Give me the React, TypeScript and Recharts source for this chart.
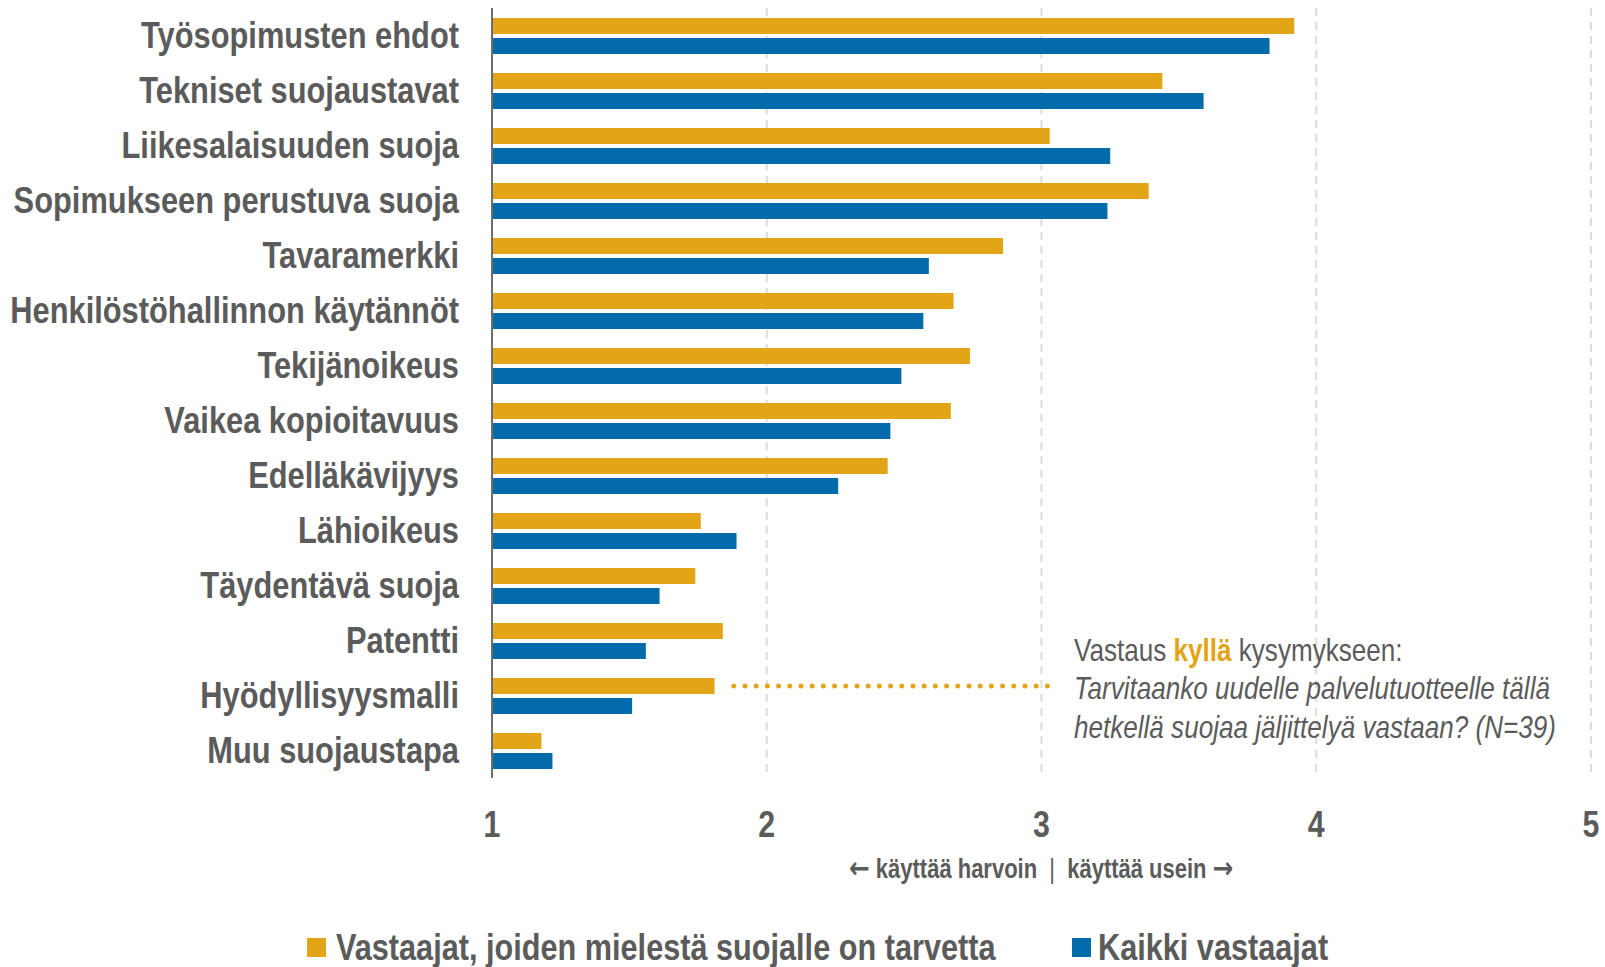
import React from "react";
import { BarChart, Bar, XAxis, YAxis, CartesianGrid, ReferenceLine } from "recharts";

const categories = [
  "Työsopimusten ehdot",
  "Tekniset suojaustavat",
  "Liikesalaisuuden suoja",
  "Sopimukseen perustuva suoja",
  "Tavaramerkki",
  "Henkilöstöhallinnon käytännöt",
  "Tekijänoikeus",
  "Vaikea kopioitavuus",
  "Edelläkävijyys",
  "Lähioikeus",
  "Täydentävä suoja",
  "Patentti",
  "Hyödyllisyysmalli",
  "Muu suojaustapa",
];
const needValues = [3.92, 3.44, 3.03, 3.39, 2.86, 2.68, 2.74, 2.67, 2.44, 1.76, 1.74, 1.84, 1.81, 1.18];
const allValues = [3.83, 3.59, 3.25, 3.24, 2.59, 2.57, 2.49, 2.45, 2.26, 1.89, 1.61, 1.56, 1.51, 1.22];
const xTicks = [1, 2, 3, 4, 5];
const seriesNames = ["Vastaajat, joiden mielestä suojalle on tarvetta", "Kaikki vastaajat"];
const dottedFrom = 1.88;
const dottedTo = 3.04;
const dottedCategory = "Hyödyllisyysmalli";

const data = categories.map((c, i) => ({ name: c, need: needValues[i], all: allValues[i] }));

const ORANGE = "#E3A518";
const BLUE = "#046BAB";
const GRAY = "#5b5b5b";
const FONT = "'Liberation Sans', Arial, sans-serif";
const SX = 0.82;

const YTick = (props: any) => {
  const { x, y, payload } = props;
  return (
    <text transform={`translate(${x},${y - 1}) scale(${SX},1)`} x={0} y={0} textAnchor="end" dominantBaseline="central" fill={GRAY}
      style={{ fontFamily: FONT, fontWeight: 700, fontSize: 37.6 }}>
      {payload.value}
    </text>
  );
};

const XTick = (props: any) => {
  const { x, y, payload } = props;
  return (
    <text transform={`translate(${x},${y}) scale(${SX},1)`} x={0} y={0} dy="0.71em" textAnchor="middle" fill={GRAY}
      style={{ fontFamily: FONT, fontWeight: 700, fontSize: 37 }}>
      {payload.value}
    </text>
  );
};

const DottedShape = (props: any) => {
  const { x1, y1, x2, y2 } = props;
  const off = -9.5;
  return (
    <line x1={x1} y1={y1 + off} x2={x2} y2={y2 + off} stroke={ORANGE} strokeWidth={5}
      strokeDasharray="0 11.2" strokeLinecap="round" />
  );
};

const narrow: React.CSSProperties = { display: "inline-block", transform: `scaleX(${SX})`, transformOrigin: "left center", whiteSpace: "nowrap" };
const arrow: React.CSSProperties = { fontFamily: "'DejaVu Sans', sans-serif", fontWeight: 700, fontSize: 30, lineHeight: "30px" };

export default function App() {
  return (
    <div style={{ position: "fixed", left: 0, top: 0, width: 1605, height: 967, background: "#fff", overflow: "hidden" }}>
      <BarChart width={1605} height={967} data={data} layout="vertical"
        margin={{ top: 8, right: 14, bottom: 119, left: 0 }}
        barCategoryGap={10} barGap={4}>
        <CartesianGrid horizontal={false} vertical={true} stroke="#dcdcdc" strokeDasharray="8 6" strokeWidth={2} />
        <XAxis type="number" domain={[1, 5]} ticks={xTicks} height={70}
          axisLine={false} tickLine={false} tickSize={0} tickMargin={33} tick={<XTick />} interval={0} />
        <YAxis type="category" dataKey="name" width={492} axisLine={{ stroke: "#6e6e6e", strokeWidth: 2 }}
          tickLine={false} tickSize={0} tickMargin={33} tick={<YTick />} interval={0} />
        <Bar dataKey="need" fill={ORANGE} isAnimationActive={false} />
        <Bar dataKey="all" fill={BLUE} isAnimationActive={false} />
        <ReferenceLine segment={[{ x: dottedFrom, y: dottedCategory }, { x: dottedTo, y: dottedCategory }]}
          shape={<DottedShape />} ifOverflow="visible" />
      </BarChart>

      <div style={{ position: "absolute", left: 1074, top: 631, fontFamily: FONT, fontSize: 31.8, lineHeight: "38.4px", color: GRAY, whiteSpace: "nowrap" }}>
        <div><span style={narrow}>Vastaus <span style={{ color: ORANGE, fontWeight: 700 }}>kyllä</span> kysymykseen:</span></div>
        <div style={{ fontStyle: "italic" }}><span style={narrow}>Tarvitaanko uudelle palvelutuotteelle tällä</span></div>
        <div style={{ fontStyle: "italic" }}><span style={narrow}>hetkellä suojaa jäljittelyä vastaan? (N=39)</span></div>
      </div>

      <div style={{ position: "absolute", left: 0, width: 2082, top: 851, textAlign: "center", fontFamily: FONT, fontWeight: 700, fontSize: 26.8, lineHeight: "36px", color: GRAY, whiteSpace: "nowrap" }}>
        <span style={{ ...narrow, transformOrigin: "center center" }}>
          <span style={arrow}>←</span> käyttää harvoin &nbsp;<span style={{ fontWeight: 400 }}>|</span>&nbsp; käyttää usein <span style={arrow}>→</span>
        </span>
      </div>

      <div style={{ position: "absolute", left: 307, top: 927, height: 40, display: "flex", alignItems: "center", fontFamily: FONT, fontWeight: 700, fontSize: 37.4, color: GRAY, whiteSpace: "nowrap" }}>
        <span style={{ display: "inline-block", width: 19, height: 19, background: ORANGE, marginRight: 10 }} />
        <span style={narrow}>{seriesNames[0]}</span>
      </div>
      <div style={{ position: "absolute", left: 1072, top: 927, height: 40, display: "flex", alignItems: "center", fontFamily: FONT, fontWeight: 700, fontSize: 37.4, color: GRAY, whiteSpace: "nowrap" }}>
        <span style={{ display: "inline-block", width: 19, height: 19, background: BLUE, marginRight: 7 }} />
        <span style={narrow}>{seriesNames[1]}</span>
      </div>
    </div>
  );
}
